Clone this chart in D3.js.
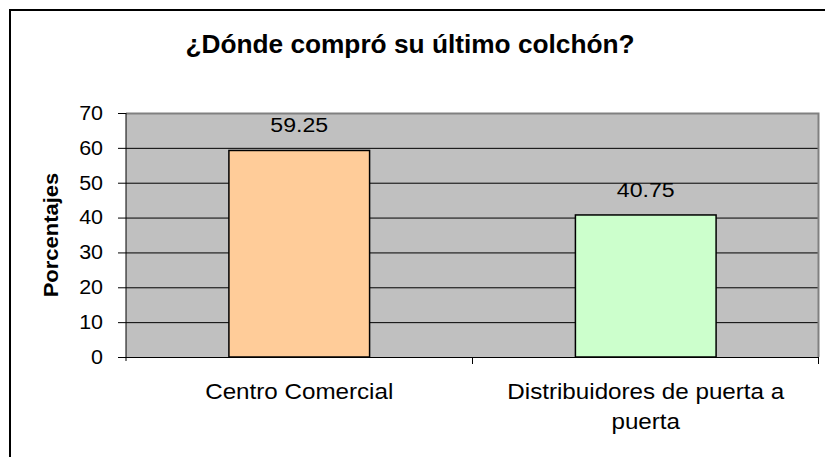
<!DOCTYPE html>
<html>
<head>
<meta charset="utf-8">
<script src="https://cdn.jsdelivr.net/npm/d3@7"></script>
<style>
  body { margin: 0; background: #fff; }
  text { font-family: "Liberation Sans", Arial, sans-serif; fill: #000; }
</style>
</head>
<body>
<svg id="chart" width="825" height="457"></svg>
<script>
var categories = ["Centro Comercial", "Distribuidores de puerta a puerta"];
var values = [59.25, 40.75];
var barColors = ["#FFCC99", "#CCFFCC"];
var yTicks = [0, 10, 20, 30, 40, 50, 60, 70];
var title = "¿Dónde compró su último colchón?";
var yTitle = "Porcentajes";

var svg = d3.select("#chart");
var plot = { left: 126, right: 819, top: 113, bottom: 357 };
var sx = 1.1; // text in the picture is drawn a bit wide

// outer chart frame (runs off the right and bottom edge)
svg.append("rect")
  .attr("x", 10).attr("y", 10)
  .attr("width", 840).attr("height", 480)
  .attr("fill", "#fff")
  .attr("stroke", "#000")
  .attr("stroke-width", 2);

var y = d3.scaleLinear()
  .domain([0, 70])
  .range([plot.bottom, plot.top]);

var x = d3.scaleBand()
  .domain(categories)
  .range([plot.left, plot.right])
  .paddingInner(0.594)
  .paddingOuter(0.297);

var xCat = d3.scaleBand()
  .domain(categories)
  .range([plot.left, plot.right]);

// plot background
svg.append("rect")
  .attr("x", plot.left).attr("y", plot.top)
  .attr("width", plot.right - plot.left)
  .attr("height", plot.bottom - plot.top)
  .attr("fill", "#C0C0C0");

// gridlines
svg.append("g")
  .selectAll("line")
  .data(yTicks.filter(function(d) { return d > 0 && d < 70; }))
  .enter()
  .append("line")
  .attr("x1", plot.left).attr("x2", plot.right)
  .attr("y1", function(d) { return y(d) + 0.5; })
  .attr("y2", function(d) { return y(d) + 0.5; })
  .attr("stroke", "#000")
  .attr("stroke-width", 1);

// gray border on top and right
svg.append("path")
  .attr("d", "M" + plot.left + "," + (plot.top + 0.5) + "H" + (plot.right - 0.5) + "V" + plot.bottom)
  .attr("fill", "none")
  .attr("stroke", "#808080")
  .attr("stroke-width", 2);

// bars
svg.append("g")
  .selectAll("rect")
  .data(values)
  .enter()
  .append("rect")
  .attr("x", function(d, i) { return x(categories[i]); })
  .attr("y", function(d) { return y(d); })
  .attr("width", x.bandwidth())
  .attr("height", function(d) { return y(0) - y(d); })
  .attr("fill", function(d, i) { return barColors[i]; })
  .attr("stroke", "#000")
  .attr("stroke-width", 1.5);

// value labels
svg.append("g")
  .selectAll("text")
  .data(values)
  .enter()
  .append("text")
  .attr("transform", function(d, i) {
    return "translate(" + (x(categories[i]) + x.bandwidth() / 2) + "," + (y(d) - 18) + ") scale(" + sx + ",1)";
  })
  .attr("text-anchor", "middle")
  .style("font-size", "21px")
  .text(function(d) { return d.toFixed(2); });

// y axis
var yAxis = svg.append("g")
  .attr("transform", "translate(" + plot.left + ",0)")
  .call(d3.axisLeft(y).tickValues(yTicks).tickSize(8).tickPadding(0));
yAxis.select(".domain").remove();
yAxis.selectAll(".tick line").attr("stroke", "#000");
yAxis.selectAll(".tick text").remove();
yAxis.append("line")
  .attr("x1", 0).attr("x2", 0)
  .attr("y1", plot.top).attr("y2", plot.bottom + 4)
  .attr("stroke", "#000");

svg.append("g")
  .selectAll("text")
  .data(yTicks)
  .enter()
  .append("text")
  .attr("transform", function(d) {
    return "translate(103," + y(d) + ") scale(" + sx + ",1)";
  })
  .attr("text-anchor", "end")
  .attr("dy", "0.35em")
  .style("font-size", "19.5px")
  .text(function(d) { return d; });

// x axis line and category boundary ticks
svg.append("line")
  .attr("x1", plot.left).attr("x2", plot.right)
  .attr("y1", plot.bottom + 0.5).attr("y2", plot.bottom + 0.5)
  .attr("stroke", "#000");

var bounds = categories.map(function(c) { return xCat(c); }).concat([xCat.range()[1]]);
svg.append("g")
  .selectAll("line")
  .data(bounds.slice(1))
  .enter()
  .append("line")
  .attr("x1", function(d) { return Math.round(d) - 0.5; })
  .attr("x2", function(d) { return Math.round(d) - 0.5; })
  .attr("y1", plot.bottom).attr("y2", plot.bottom + 7)
  .attr("stroke", "#000");

// category labels, wrapped
function wrapWords(str, maxChars) {
  var words = str.split(" "), lines = [], cur = "";
  words.forEach(function(w) {
    var next = cur ? cur + " " + w : w;
    if (next.length > maxChars && cur) { lines.push(cur); cur = w; }
    else { cur = next; }
  });
  lines.push(cur);
  return lines;
}

var catLabels = svg.append("g")
  .selectAll("g")
  .data(categories)
  .enter()
  .append("g")
  .attr("transform", function(d) {
    return "translate(" + (xCat(d) + xCat.bandwidth() / 2) + "," + (plot.bottom + 42) + ")";
  });

catLabels.each(function(d) {
  var g = d3.select(this);
  wrapWords(d, 26).forEach(function(line, i) {
    g.append("text")
      .attr("transform", "translate(0," + (i * 30) + ") scale(" + sx + ",1)")
      .attr("text-anchor", "middle")
      .style("font-size", "22px")
      .text(line);
  });
});

// title
svg.append("text")
  .attr("transform", "translate(410,53) scale(1.03,1)")
  .attr("text-anchor", "middle")
  .style("font-size", "25.5px")
  .style("font-weight", "bold")
  .text(title);

// y axis title
svg.append("text")
  .attr("transform", "translate(58," + ((plot.top + plot.bottom) / 2) + ") rotate(-90) scale(" + sx + ",1)")
  .attr("text-anchor", "middle")
  .style("font-size", "20px")
  .style("font-weight", "bold")
  .text(yTitle);
</script>
</body>
</html>
